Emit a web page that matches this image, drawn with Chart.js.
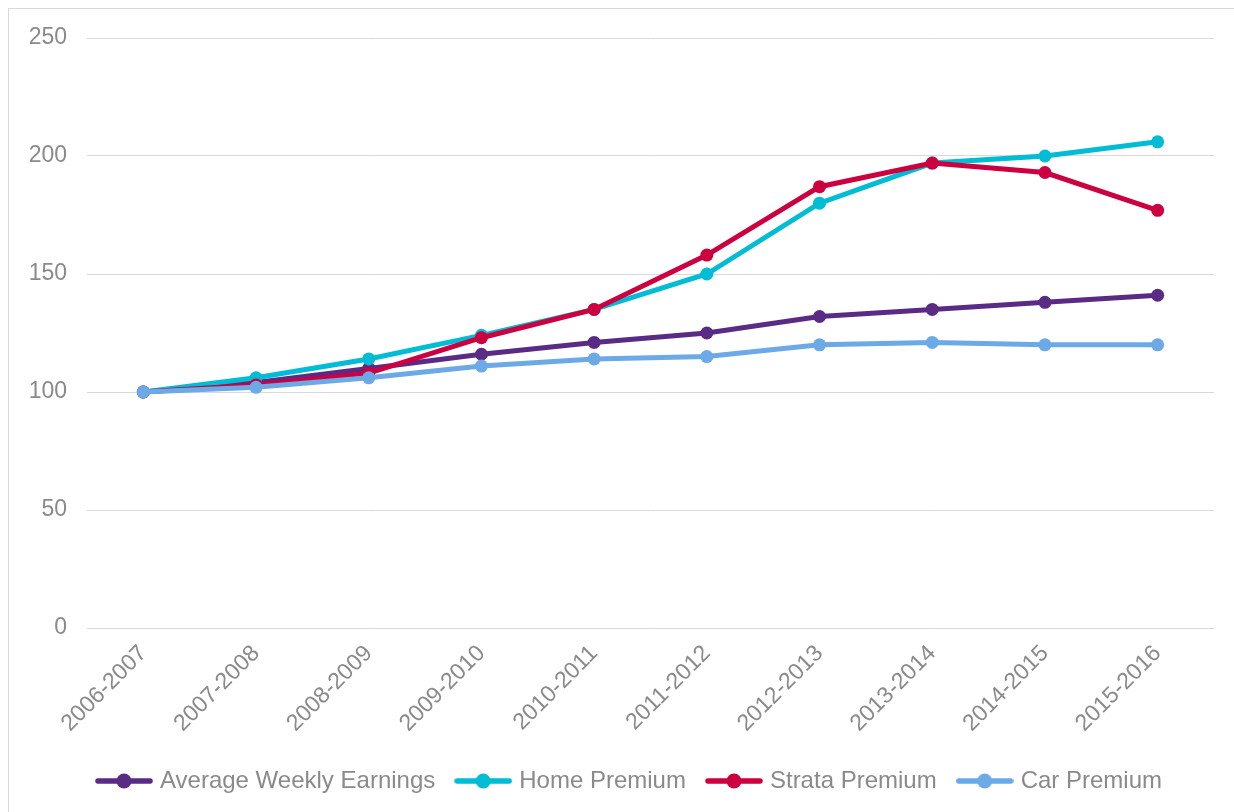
<!DOCTYPE html>
<html>
<head>
<meta charset="utf-8">
<script src="https://cdn.jsdelivr.net/npm/chart.js@4/dist/chart.umd.min.js"></script>
<style>
  html, body { margin: 0; padding: 0; background: #fff; overflow: hidden; }
  #frame { position: absolute; left: 8px; top: 8px; width: 1300px; height: 900px; border: 1px solid #d9d9d9; }
  #wrap { position: absolute; left: 0; top: 0; width: 1234px; height: 812px; }
</style>
</head>
<body>
<div id="frame"></div>
<div id="wrap"><canvas id="premiumChart"></canvas></div>
<script>
const years = ['2006-2007', '2007-2008', '2008-2009', '2009-2010', '2010-2011',
  '2011-2012', '2012-2013', '2013-2014', '2014-2015', '2015-2016'];
const earnings = [100, 104, 110, 116, 121, 125, 132, 135, 138, 141];
const homePremium = [100, 106, 114, 124, 135, 150, 180, 197, 200, 206];
const strataPremium = [100, 103, 108, 123, 135, 158, 187, 197, 193, 177];
const carPremium = [100, 102, 106, 111, 114, 115, 120, 121, 120, 120];

const textColor = '#8a8a8a';
const gridColor = '#d9d9d9';
const fontFamily = '"Liberation Sans", Arial, sans-serif';

// legend symbol: short line with a dot in the middle
function legendIcon(color) {
  const c = document.createElement('canvas');
  c.width = 58;
  c.height = 16;
  const g = c.getContext('2d');
  g.strokeStyle = color;
  g.lineWidth = 5.5;
  g.lineCap = 'round';
  g.beginPath();
  g.moveTo(3, 8);
  g.lineTo(55, 8);
  g.stroke();
  g.fillStyle = color;
  g.beginPath();
  g.arc(29, 8, 7.5, 0, Math.PI * 2);
  g.fill();
  return c;
}

function series(label, values, color, order) {
  return {
    label: label,
    data: values,
    borderColor: color,
    backgroundColor: color,
    borderWidth: 5,
    pointRadius: 6.5,
    pointBorderWidth: 0,
    pointHoverRadius: 7,
    tension: 0,
    order: order,
    icon: legendIcon(color)
  };
}

const data = {
  labels: years,
  datasets: [
    series('Average Weekly Earnings', earnings, '#5a2b84', 3),
    series('Home Premium', homePremium, '#00bcd4', 2),
    series('Strata Premium', strataPremium, '#cc0040', 1),
    series('Car Premium', carPremium, '#6baae6', 0)
  ]
};

// nudge the legend a bit to the right, like the original
const shiftLegend = {
  id: 'shiftLegend',
  afterLayout: (chart) => {
    chart.legend.left += 24;
    chart.legend.right += 24;
  }
};

const config = {
  type: 'line',
  data: data,
  plugins: [shiftLegend],
  options: {
    responsive: true,
    maintainAspectRatio: false,
    animation: false,
    layout: {
      padding: { left: 0, right: 20, top: 38, bottom: 9 }
    },
    plugins: {
      legend: {
        position: 'bottom',
        labels: {
          usePointStyle: true,
          pointStyleWidth: 48,
          padding: 24,
          color: textColor,
          font: { family: fontFamily, size: 24 },
          generateLabels: (chart) => {
            const items = Chart.defaults.plugins.legend.labels.generateLabels(chart);
            items.forEach(item => {
              item.pointStyle = chart.data.datasets[item.datasetIndex].icon;
            });
            return items;
          },
          sort: (a, b) => a.datasetIndex - b.datasetIndex
        }
      },
      tooltip: { enabled: false }
    },
    scales: {
      x: {
        offset: true,
        grid: { display: false },
        border: { display: false },
        ticks: {
          color: textColor,
          font: { family: fontFamily, size: 23 },
          minRotation: 45,
          maxRotation: 45,
          padding: 4
        },
        afterFit: (scale) => { scale.height = 117; }
      },
      y: {
        min: 0,
        max: 250,
        grid: { color: gridColor, drawTicks: false },
        border: { display: false },
        ticks: {
          stepSize: 50,
          color: textColor,
          font: { family: fontFamily, size: 23 },
          padding: 20
        },
        afterFit: (scale) => { scale.width = 87; }
      }
    }
  }
};

const ctx = document.getElementById('premiumChart');
const myChart = new Chart(ctx, config);
</script>
</body>
</html>
